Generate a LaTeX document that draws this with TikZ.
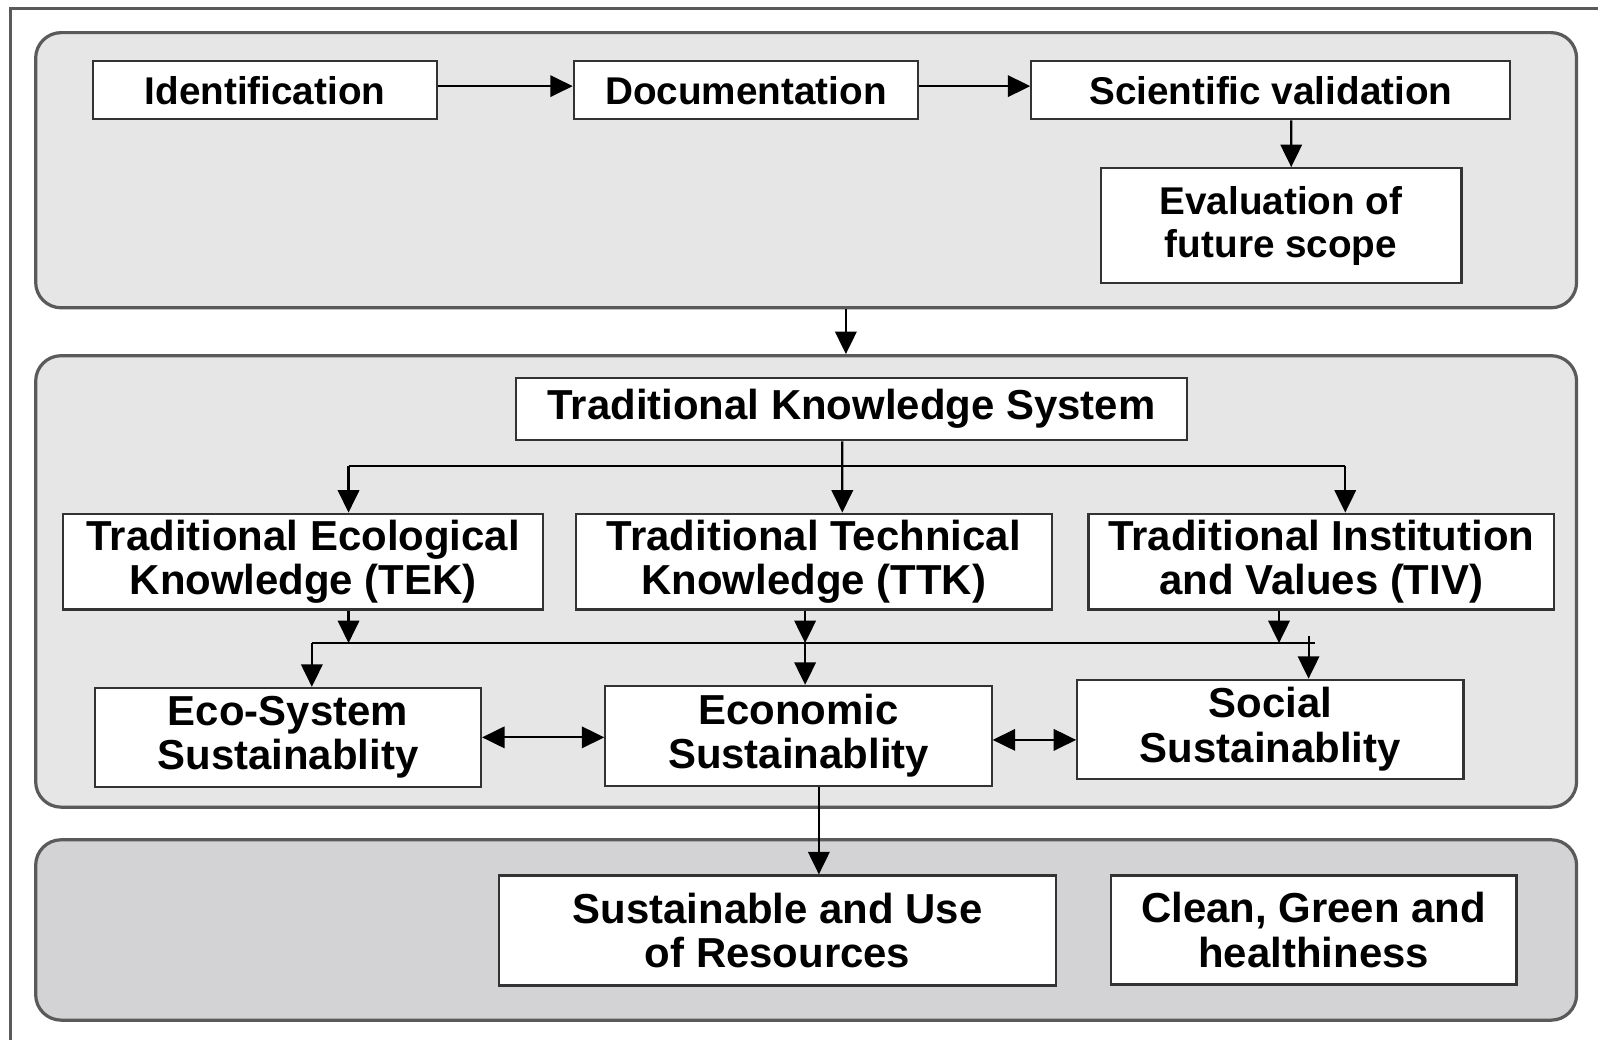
\documentclass[tikz,border=0pt]{standalone}
\usepackage{fontspec}
\setmainfont{Liberation Sans}
\usetikzlibrary{arrows.meta}
\definecolor{panelgray}{HTML}{E6E6E6}
\definecolor{darkpanel}{HTML}{D3D3D5}
\definecolor{rimgray}{HTML}{5A5A5A}
\tikzset{
  panel/.style={draw=rimgray, line width=0.9pt, rounded corners=2.5mm, fill=panelgray,
    minimum width=151.2mm, inner sep=0pt},
  box/.style={draw=black!80, fill=white, line width=0.6pt, inner sep=0pt, align=center,
    font=\bfseries\fontsize{11.7}{12.4}\selectfont},
  topbox/.style={box, font=\bfseries\fontsize{10.8}{12}\selectfont}
}
\begin{document}
\begin{tikzpicture}[x=0.1mm, y=-0.1mm, >={Triangle[length=2.2mm,width=2.1mm]}, line width=0.6pt]
\useasboundingbox (0,0) rectangle (1568,1020);
\draw[rimgray, line width=0.8pt] (10,1020)--(10,8)--(1568,8);
% panels
\node[panel, minimum height=27mm] (p1) at (791,167) {};
\node[panel, minimum height=44.3mm] (p2) at (791,570.5) {};
\node[panel, minimum height=17.7mm, fill=darkpanel] (p3) at (791,912.5) {};
% top panel
\node[topbox, minimum width=33.8mm, minimum height=5.7mm] (ident) at (260,88.5) {Identification};
\node[topbox, minimum width=33.8mm, minimum height=5.7mm] (docu) at (732,88.5) {Documentation};
\node[topbox, minimum width=47mm, minimum height=5.7mm] (sci) at (1247,88.5) {Scientific validation};
\node[topbox, minimum width=35.4mm, minimum height=11.3mm] (eval) at (1257,221.5) {Evaluation of\\future scope};
\draw[->] ([yshift=0.4mm]ident.east) -- ([yshift=0.4mm]docu.west);
\draw[->] ([yshift=0.4mm]docu.east) -- ([yshift=0.4mm]sci.west);
\draw[->] ([xshift=2mm]sci.south) -- ([xshift=1mm]eval.north);
\draw[->] ([xshift=3.9mm]p1.south) -- ([xshift=3.9mm]p2.north);
% middle panel
\node[box, minimum width=65.9mm, minimum height=6.1mm] (tks) at (835.5,401.5) {Traditional Knowledge System};
\node[box, minimum width=47.1mm, minimum height=9.4mm] (tek) at (297.5,551) {Traditional Ecological\\Knowledge (TEK)};
\node[box, minimum width=46.7mm, minimum height=9.4mm] (ttk) at (798.5,551) {Traditional Technical\\Knowledge (TTK)};
\node[box, minimum width=45.7mm, minimum height=9.4mm] (tiv) at (1296.5,551) {Traditional Institution\\and Values (TIV)};
\node[box, minimum width=37.9mm, minimum height=9.7mm] (eco) at (282.5,723.5) {Eco-System\\Sustainablity};
\node[box, minimum width=37.9mm, minimum height=9.8mm] (econ) at (783.5,722) {Economic\\Sustainablity};
\node[box, minimum width=37.9mm, minimum height=9.7mm] (social) at (1246.5,715.5) {Social\\Sustainablity};
\coordinate (bl) at (342,457);
\coordinate (br) at (1320,457);
\draw (bl) -- (br);
\draw[->] ([xshift=-0.9mm]tks.south) -- ([xshift=2.8mm]ttk.north);
\draw[->] (bl) -- (bl |- tek.north);
\draw[->] (br) -- (br |- tiv.north);
\coordinate (cl) at (306,631);
\coordinate (cr) at (1290,631);
\coordinate (cm) at (790,631);
\coordinate (ct) at (1255,631);
\coordinate (cs) at (1284,624);
\draw (cl) -- (cr);
\draw[->] (tek.south -| bl) -- (bl |- cl);
\draw[->] (cm |- ttk.south) -- (cm);
\draw[->] (ct |- tiv.south) -- (ct);
\draw[->] (cl) -- (cl |- eco.north);
\draw[->] (cm) -- (cm |- econ.north);
\draw[->] (cs) -- (cs |- social.north);
\draw[<->] (eco.east) -- (eco.east -| econ.west);
\draw[<->] ([yshift=-0.4mm]econ.east) -- ([yshift=-0.4mm]econ.east -| social.west);
% bottom panel
\node[box, minimum width=54.6mm, minimum height=10.8mm] (sus) at (763,913) {Sustainable and Use\\of Resources};
\node[box, minimum width=39.8mm, minimum height=10.7mm] (clean) at (1289,912.5) {Clean, Green and\\healthiness};
\draw[->] ([xshift=2mm]econ.south) -- ([xshift=2mm]econ.south |- sus.north);
\end{tikzpicture}
\end{document}
